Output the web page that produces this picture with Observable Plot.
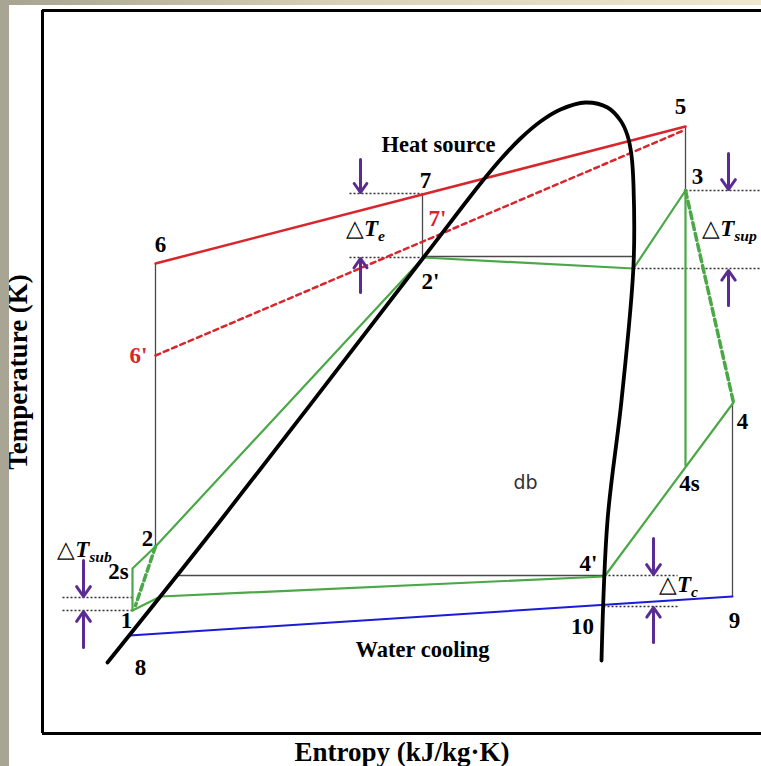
<!DOCTYPE html>
<html><head><meta charset="utf-8">
<script src="https://cdn.jsdelivr.net/npm/d3@7"></script>
<script src="https://cdn.jsdelivr.net/npm/@observablehq/plot@0.6"></script>
<style>
html,body{margin:0;padding:0;background:#fff;}
#wrap{position:relative;width:761px;height:766px;overflow:hidden;background:#fff;}
#topstrip{position:absolute;left:0;top:0;width:761px;height:5px;background:linear-gradient(to right,#a7a38f,#d8d1b6 45%,#efe8cf);}
#leftstrip{position:absolute;left:0;top:0;width:9px;height:766px;background:#a9a594;}
</style></head><body>
<div id="wrap"><div id="chart"></div><div id="topstrip"></div><div id="leftstrip"></div></div>
<script>
// Schematic T-s diagram (arbitrary units: entropy s, temperature T)
// saturation dome
const domeS = [6.5, 17.8, 38.1, 43.8, 45.8, 47.8, 49.8, 51.8, 54.3, 56.5, 57.8, 58.5, 58.9, 59.1, 59.1, 57.9, 56.5, 55.9];
const domeT = [7.1, 21.3, 47.6, 55.0, 57.4, 59.5, 61.2, 62.4, 63.1, 62.6, 61.3, 59.8, 57.8, 54.8, 46.8, 33.3, 21.3, 7.3];

// green cycle (solid): 1 -> 2s -> 2 -> 2' -> sat. vapour -> 3 -> 4s
const cycleAS = [9.0, 9.0, 11.3, 38.1, 59.1, 64.3, 64.3];
const cycleAT = [12.3, 16.5, 18.7, 47.6, 46.5, 54.3, 26.8];
// green cycle (solid): 4 -> 4' -> dome crossing -> 1
const cycleBS = [69.1, 56.2, 11.8, 9.0];
const cycleBT = [33.1, 15.7, 13.7, 12.3];
// green dashed: 3 -> 4 and 2 -> near 1
const dashG1S = [64.3, 69.1], dashG1T = [54.3, 33.1];
const dashG2S = [11.3, 9.3], dashG2T = [18.7, 12.8];

// heat source (red): 6 -> 5 solid, 6' -> 5 dashed
const heatS = [11.3, 64.3], heatT = [47.0, 60.7];
const heatDS = [11.3, 64.1], heatDT = [37.8, 60.3];
// water cooling (blue): 8 -> 9
const coolS = [8.7, 69.0], coolT = [9.8, 13.7];

// thin gray connectors
const graySegs = [
  {s1: 11.3, T1: 47.0, s2: 11.3, T2: 18.7},
  {s1: 38.0, T1: 54.0, s2: 38.0, T2: 47.6},
  {s1: 64.3, T1: 60.7, s2: 64.3, T2: 54.3},
  {s1: 69.0, T1: 33.1, s2: 69.0, T2: 13.7},
  {s1: 38.1, T1: 47.7, s2: 59.1, T2: 47.7},
  {s1: 13.4, T1: 15.8, s2: 56.2, T2: 15.8}
];
// dotted reference levels
const dotSegs = [
  {s1: 30.7, s2: 38.0, T: 54.0},
  {s1: 30.7, s2: 38.1, T: 47.6},
  {s1: 64.3, s2: 71.9, T: 54.3},
  {s1: 59.1, s2: 71.9, T: 46.5},
  {s1: 56.2, s2: 63.5, T: 15.8},
  {s1: 56.1, s2: 63.5, T: 12.7},
  {s1: 2.0, s2: 9.0, T: 13.6},
  {s1: 2.0, s2: 9.0, T: 12.3}
];
// purple arrows (from T1 to tip T2)
const arrowS  = [31.8, 31.8, 68.6, 68.6, 61.1, 61.1, 4.1, 4.1];
const arrowT1 = [57.4, 44.1, 58.0, 42.8, 19.5, 9.1, 17.3, 8.6];
const arrowT2 = [54.1, 47.5, 54.4, 46.3, 15.9, 12.6, 13.7, 12.2];

// point labels
const pointLabels = ["5", "3", "7", "7'", "6", "6'", "2'", "4", "4s", "4'", "10", "9", "2", "2s", "1", "8"];
const labelS = [63.8, 65.5, 38.3, 39.5, 11.8, 9.6, 38.8, 70.0, 64.7, 54.6, 54.0, 69.2, 10.5, 7.6, 8.4, 9.8];
const labelT = [62.7, 55.7, 55.3, 51.5, 48.9, 37.8, 45.2, 31.2, 25.0, 17.0, 10.7, 11.3, 19.5, 16.2, 11.3, 6.6];
const redLabels = ["7'", "6'"];
// delta-T labels
const deltaSubs = ["e", "sup", "c", "sub"];
const deltaS = [32.3, 68.7, 63.6, 4.2];
const deltaT = [50.5, 50.5, 14.9, 18.4];
// annotations
const notes = ["Heat source", "Water cooling"];
const noteS = [39.6, 38.0], noteT = [58.9, 8.4];

const pts = (S, T) => S.map((s, i) => ({s, T: T[i]}));
const serif = "'Liberation Serif', 'Times New Roman', serif";
const GREEN = "#4aa846", RED = "#d8262c", BLUE = "#1b1bd8", PURPLE = "#5a2b92", GRAY = "#4a4a4a";

const chart = Plot.plot({
  width: 761, height: 766,
  marginLeft: 42, marginRight: 0, marginTop: 10, marginBottom: 33,
  x: {domain: [0, 71.9], axis: null},
  y: {domain: [0, 72.3], axis: null},
  style: {background: "transparent", fontFamily: serif},
  marks: [
    // thin connectors
    Plot.link(graySegs, {x1: "s1", y1: "T1", x2: "s2", y2: "T2", stroke: GRAY, strokeWidth: 1.3}),
    Plot.link(dotSegs, {x1: "s1", y1: "T", x2: "s2", y2: "T", stroke: "#333", strokeWidth: 1.3, strokeDasharray: "2,2"}),
    // heat source & cooling
    Plot.line(pts(heatS, heatT), {x: "s", y: "T", stroke: RED, strokeWidth: 2.5}),
    Plot.line(pts(heatDS, heatDT), {x: "s", y: "T", stroke: RED, strokeWidth: 2.5, strokeDasharray: "5,4"}),
    Plot.line(pts(coolS, coolT), {x: "s", y: "T", stroke: BLUE, strokeWidth: 2}),
    // cycle
    Plot.line(pts(cycleAS, cycleAT), {x: "s", y: "T", stroke: GREEN, strokeWidth: 2.2}),
    Plot.line(pts(cycleBS, cycleBT), {x: "s", y: "T", stroke: GREEN, strokeWidth: 2.2}),
    Plot.line(pts(dashG1S, dashG1T), {x: "s", y: "T", stroke: GREEN, strokeWidth: 3.5, strokeDasharray: "7,4"}),
    Plot.line(pts(dashG2S, dashG2T), {x: "s", y: "T", stroke: GREEN, strokeWidth: 3.5, strokeDasharray: "6,4"}),
    // saturation dome
    Plot.line(pts(domeS, domeT), {x: "s", y: "T", stroke: "black", strokeWidth: 3.8, curve: "catmull-rom"}),
    // arrows
    Plot.arrow(arrowS.map((s, i) => ({s, T1: arrowT1[i], T2: arrowT2[i]})), {x1: "s", y1: "T1", x2: "s", y2: "T2", stroke: PURPLE, strokeWidth: 3, headLength: 12, headAngle: 70}),
    // frame (top, bottom, left)
    Plot.ruleY([0, 72.3], {stroke: "black", strokeWidth: 3}),
    Plot.ruleX([0], {stroke: "black", strokeWidth: 3}),
    // labels
    Plot.text(pointLabels, {x: (d, i) => labelS[i], y: (d, i) => labelT[i], text: d => d, fontSize: 23, fontWeight: "bold", fill: d => redLabels.includes(d) ? RED : "black"}),
    Plot.text(notes, {x: (d, i) => noteS[i], y: (d, i) => noteT[i], text: d => d, fontSize: 22.5, fontWeight: "bold"}),
    Plot.text(["db"], {x: [48.3], y: [25.1], text: d => d, fontSize: 19, fontFamily: "'DejaVu Sans', sans-serif", fill: "#333"}),
    Plot.text(deltaSubs, {x: (d, i) => deltaS[i], y: (d, i) => deltaT[i], text: d => "△T|" + d, fontSize: 23}),
    // axis titles
    Plot.text(["Entropy (kJ/kg·K)"], {frameAnchor: "bottom", lineAnchor: "middle", textAnchor: "middle", dy: 19, text: d => d, fontSize: 27, fontWeight: "bold"}),
    Plot.text(["Temperature (K)"], {frameAnchor: "left", lineAnchor: "middle", textAnchor: "middle", dx: -24, rotate: -90, text: d => d, fontSize: 27, fontWeight: "bold"})
  ]
});

// rich ΔT labels: △ + bold italic T + subscript
d3.select(chart).selectAll("text").each(function () {
  const t = this.textContent;
  if (t.startsWith("△T|")) {
    const sub = t.split("|")[1];
    const el = d3.select(this);
    el.text(null);
    el.append("tspan").attr("font-weight", "normal").text("△");
    el.append("tspan").attr("font-weight", "bold").attr("font-style", "italic").text("T");
    el.append("tspan").attr("font-weight", "bold").attr("font-style", "italic").attr("font-size", "0.68em").attr("dy", "0.3em").text(sub);
  }
});
document.getElementById("chart").append(chart);
</script>
</body></html>
